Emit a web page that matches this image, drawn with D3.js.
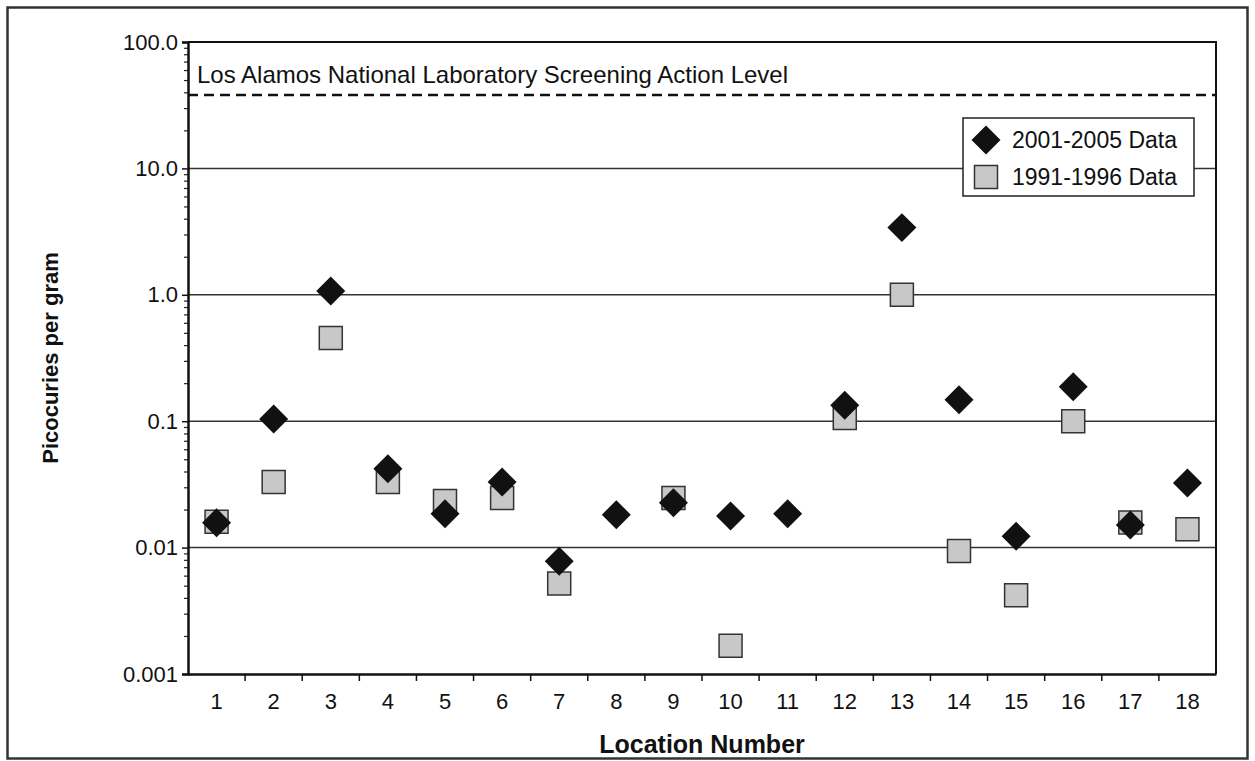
<!DOCTYPE html>
<html>
<head>
<meta charset="utf-8">
<script src="https://cdn.jsdelivr.net/npm/d3@7"></script>
<style>
  body { margin: 0; background: #fff; }
  text { font-family: "Liberation Sans", Arial, sans-serif; fill: #111; }
</style>
</head>
<body>
<svg id="chart" width="1255" height="761"></svg>
<script>
// Sampling locations along the x axis
const locations = [1, 2, 3, 4, 5, 6, 7, 8, 9, 10, 11, 12, 13, 14, 15, 16, 17, 18];

// Picocuries per gram, 2001-2005 sampling
const recentValues = [0.0157, 0.104, 1.07, 0.042, 0.0185, 0.033, 0.0078, 0.0182, 0.0226,
                      0.0178, 0.0185, 0.134, 3.4, 0.148, 0.0123, 0.187, 0.0151, 0.0324];

// Picocuries per gram, 1991-1996 sampling (null = not sampled)
const earlierValues = [0.016, 0.033, 0.455, 0.033, 0.0234, 0.0247, 0.0052, null, 0.0247,
                       0.00167, null, 0.106, 1.0, 0.0094, 0.0042, 0.1, 0.0158, 0.014];

const seriesNames = ["2001-2005 Data", "1991-1996 Data"];

const yTickValues = [100, 10, 1, 0.1, 0.01, 0.001];
const yTickLabels = ["100.0", "10.0", "1.0", "0.1", "0.01", "0.001"];
const gridValues = [10, 1, 0.1, 0.01];

const screeningLevel = 38;
const screeningLabel = "Los Alamos National Laboratory Screening Action Level";

const xTitle = "Location Number";
const yTitle = "Picocuries per gram";

// ---- layout ----
const W = 1255, H = 761;
const plot = { left: 188, right: 1216, top: 42, bottom: 674 };

const svg = d3.select("#chart");

// outer frame
svg.append("rect")
  .attr("x", 7.5).attr("y", 7.5)
  .attr("width", W - 15).attr("height", H - 10)
  .attr("fill", "#fff").attr("stroke", "#333").attr("stroke-width", 2.5);

const x = d3.scaleBand()
  .domain(locations)
  .range([plot.left, plot.right])
  .padding(0);

const y = d3.scaleLog()
  .domain([0.001, 100])
  .range([plot.bottom, plot.top]);

// horizontal grid lines at each decade
svg.append("g")
  .selectAll("line")
  .data(gridValues)
  .join("line")
  .attr("x1", plot.left).attr("x2", plot.right)
  .attr("y1", d => y(d)).attr("y2", d => y(d))
  .attr("stroke", "#333").attr("stroke-width", 1.5);

// screening action level
svg.append("line")
  .attr("x1", plot.left).attr("x2", plot.right)
  .attr("y1", y(screeningLevel)).attr("y2", y(screeningLevel))
  .attr("stroke", "#111").attr("stroke-width", 2.5)
  .attr("stroke-dasharray", "10,6");

svg.append("text")
  .attr("x", plot.left + 9)
  .attr("y", y(screeningLevel) - 12)
  .attr("font-size", 24)
  .text(screeningLabel);

// plot frame (top and right edges)
svg.append("path")
  .attr("d", `M${plot.left},${plot.top}H${plot.right}V${plot.bottom}`)
  .attr("fill", "none").attr("stroke", "#111").attr("stroke-width", 2);

// y axis: major and minor log ticks
const minorTicks = y.ticks().filter(v => !yTickValues.includes(v));
const yMinor = svg.append("g")
  .attr("transform", `translate(${plot.left},0)`)
  .call(d3.axisLeft(y).tickValues(minorTicks).tickSize(4).tickFormat(""));
yMinor.select(".domain").remove();
yMinor.selectAll("line").attr("stroke", "#222").attr("stroke-width", 1.2);

const yAxis = svg.append("g")
  .attr("transform", `translate(${plot.left},0)`)
  .call(d3.axisLeft(y)
    .tickValues(yTickValues)
    .tickSize(6)
    .tickPadding(4)
    .tickFormat((d, i) => yTickLabels[i]));
yAxis.select(".domain").attr("stroke", "#111").attr("stroke-width", 2.5);
yAxis.selectAll("line").attr("stroke", "#111").attr("stroke-width", 1.5);
yAxis.selectAll("text").attr("font-size", 22).attr("font-family", null).attr("fill", "#111");

// x axis: labels centred in each band, ticks on band boundaries
const xAxis = svg.append("g")
  .attr("transform", `translate(0,${plot.bottom})`)
  .call(d3.axisBottom(x).tickSize(0).tickPadding(19));
xAxis.select(".domain").attr("stroke", "#111").attr("stroke-width", 2.5);
xAxis.selectAll("text").attr("font-size", 22).attr("font-family", null).attr("fill", "#111");

svg.append("g")
  .selectAll("line")
  .data(locations.slice(1))
  .join("line")
  .attr("x1", d => x(d)).attr("x2", d => x(d))
  .attr("y1", plot.bottom).attr("y2", plot.bottom + 7)
  .attr("stroke", "#111").attr("stroke-width", 1.5);

// axis titles
svg.append("text")
  .attr("x", (plot.left + plot.right) / 2)
  .attr("y", 753)
  .attr("text-anchor", "middle")
  .attr("font-size", 25).attr("font-weight", "bold")
  .text(xTitle);

svg.append("text")
  .attr("transform", `translate(58,${(plot.top + plot.bottom) / 2}) rotate(-90)`)
  .attr("text-anchor", "middle")
  .attr("font-size", 22).attr("font-weight", "bold")
  .text(yTitle);

// markers
const squareSymbol = d3.symbol(d3.symbolSquare, 23 * 23);
const diamondSymbol = d3.symbol(d3.symbolSquare, 20.5 * 20.5);
const cx = d => x(d) + x.bandwidth() / 2;

const earlierPts = locations.map((loc, i) => ({ loc, v: earlierValues[i] })).filter(p => p.v != null);
const recentPts = locations.map((loc, i) => ({ loc, v: recentValues[i] })).filter(p => p.v != null);

svg.append("g")
  .selectAll("path")
  .data(earlierPts)
  .join("path")
  .attr("d", squareSymbol)
  .attr("transform", d => `translate(${cx(d.loc)},${y(d.v)})`)
  .attr("fill", "#c8c8c8").attr("stroke", "#333").attr("stroke-width", 1.5);

svg.append("g")
  .selectAll("path")
  .data(recentPts)
  .join("path")
  .attr("d", diamondSymbol)
  .attr("transform", d => `translate(${cx(d.loc)},${y(d.v)}) rotate(45)`)
  .attr("fill", "#111");

// legend
const legend = svg.append("g").attr("transform", "translate(963,118)");
legend.append("rect")
  .attr("width", 231).attr("height", 78)
  .attr("fill", "#fff").attr("stroke", "#222").attr("stroke-width", 1.5);
legend.append("path")
  .attr("d", diamondSymbol)
  .attr("transform", "translate(23,22) rotate(45)")
  .attr("fill", "#111");
legend.append("path")
  .attr("d", squareSymbol)
  .attr("transform", "translate(23,59)")
  .attr("fill", "#c8c8c8").attr("stroke", "#333").attr("stroke-width", 1.5);
legend.selectAll("text.entry")
  .data(seriesNames)
  .join("text")
  .attr("class", "entry")
  .attr("x", 49)
  .attr("y", (d, i) => 30 + i * 37)
  .attr("font-size", 23)
  .text(d => d);
</script>
</body>
</html>
